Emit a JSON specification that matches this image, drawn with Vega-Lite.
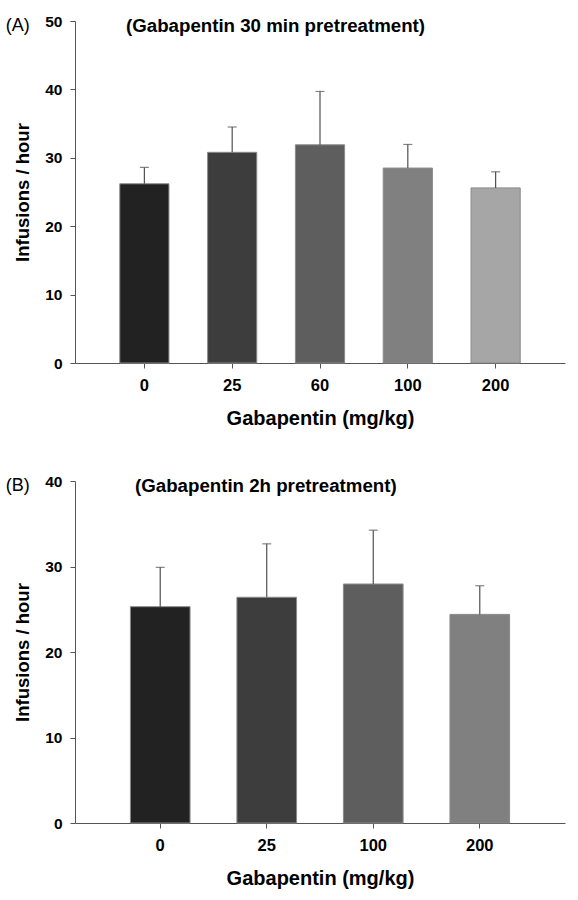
{
  "$schema": "https://vega.github.io/schema/vega-lite/v6.json",
  "background": "white",
  "padding": {"left": 5, "top": 14, "right": 5, "bottom": 5},
  "spacing": 45,
  "config": {
    "view": {"stroke": null},
    "font": "Liberation Sans",
    "axis": {
      "grid": false,
      "domainColor": "#555",
      "tickColor": "#555",
      "labelColor": "#000",
      "titleColor": "#000",
      "labelFont": "Liberation Sans",
      "titleFont": "Liberation Sans",
      "labelFontWeight": "bold",
      "titleFontWeight": "bold"
    },
    "title": {"font": "Liberation Sans", "color": "#000"}
  },
  "resolve": {"scale": {"color": "independent"}},
  "vconcat": [
    {
      "title": {"text": "(A)", "anchor": "start", "frame": "bounds", "fontWeight": "normal", "fontSize": 18, "dx": -8, "offset": -21},
      "vconcat": [
        {
          "width": 490,
          "height": 342,
          "title": {"text": "(Gabapentin 30 min pretreatment)", "anchor": "start", "frame": "group", "dx": 51, "offset": -22, "fontSize": 18.7, "fontWeight": "bold"},
          "data": {"values": [
            {"dose": "0", "mean": 26.2, "upper": 28.6},
            {"dose": "25", "mean": 30.8, "upper": 34.5},
            {"dose": "60", "mean": 31.9, "upper": 39.7},
            {"dose": "100", "mean": 28.5, "upper": 31.95},
            {"dose": "200", "mean": 25.6, "upper": 27.95}
          ]},
          "encoding": {
            "x": {"field": "dose", "type": "ordinal", "sort": null,
              "scale": {"paddingInner": 0.44, "paddingOuter": 0.51},
              "axis": {"title": "Gabapentin (mg/kg)", "labelAngle": 0, "labelFontSize": 16.5, "titleFontSize": 20, "tickSize": 5, "labelPadding": 9, "titlePadding": 15}}
          },
          "layer": [
            {
              "mark": {"type": "bar", "stroke": "#8a8a8a", "strokeWidth": 1},
              "encoding": {
                "y": {"field": "mean", "type": "quantitative", "scale": {"domain": [0, 50]},
                  "axis": {"title": "Infusions / hour", "values": [0, 10, 20, 30, 40, 50], "labelFontSize": 15.5, "titleFontSize": 18.5, "tickSize": 5, "labelPadding": 8, "titlePadding": 12}},
                "color": {"field": "dose", "type": "nominal", "sort": null, "legend": null,
                  "scale": {"domain": ["0", "25", "60", "100", "200"], "range": ["#222222", "#3d3d3d", "#5e5e5e", "#808080", "#a6a6a6"]}}
              }
            },
            {
              "mark": {"type": "rule", "color": "#505050", "strokeWidth": 1.2},
              "encoding": {"y": {"field": "mean", "type": "quantitative"}, "y2": {"field": "upper"}}
            },
            {
              "mark": {"type": "tick", "color": "#505050", "size": 9, "thickness": 1.2},
              "encoding": {"y": {"field": "upper", "type": "quantitative"}}
            }
          ]
        }
      ]
    },
    {
      "title": {"text": "(B)", "anchor": "start", "frame": "bounds", "fontWeight": "normal", "fontSize": 18, "dx": -8, "offset": -21},
      "vconcat": [
        {
          "width": 490,
          "height": 342,
          "title": {"text": "(Gabapentin 2h pretreatment)", "anchor": "start", "frame": "group", "dx": 60, "offset": -22, "fontSize": 18.7, "fontWeight": "bold"},
          "data": {"values": [
            {"dose": "0", "mean": 25.3, "upper": 29.9},
            {"dose": "25", "mean": 26.4, "upper": 32.65},
            {"dose": "100", "mean": 27.95, "upper": 34.25},
            {"dose": "200", "mean": 24.4, "upper": 27.75}
          ]},
          "encoding": {
            "x": {"field": "dose", "type": "ordinal", "sort": null,
              "scale": {"paddingInner": 0.44, "paddingOuter": 0.52},
              "axis": {"title": "Gabapentin (mg/kg)", "labelAngle": 0, "labelFontSize": 16.5, "titleFontSize": 20, "tickSize": 5, "labelPadding": 9, "titlePadding": 15}}
          },
          "layer": [
            {
              "mark": {"type": "bar", "stroke": "#8a8a8a", "strokeWidth": 1},
              "encoding": {
                "y": {"field": "mean", "type": "quantitative", "scale": {"domain": [0, 40]},
                  "axis": {"title": "Infusions / hour", "values": [0, 10, 20, 30, 40], "labelFontSize": 15.5, "titleFontSize": 18.5, "tickSize": 5, "labelPadding": 8, "titlePadding": 12}},
                "color": {"field": "dose", "type": "nominal", "sort": null, "legend": null,
                  "scale": {"domain": ["0", "25", "100", "200"], "range": ["#222222", "#3d3d3d", "#5e5e5e", "#808080"]}}
              }
            },
            {
              "mark": {"type": "rule", "color": "#505050", "strokeWidth": 1.2},
              "encoding": {"y": {"field": "mean", "type": "quantitative"}, "y2": {"field": "upper"}}
            },
            {
              "mark": {"type": "tick", "color": "#505050", "size": 9, "thickness": 1.2},
              "encoding": {"y": {"field": "upper", "type": "quantitative"}}
            }
          ]
        }
      ]
    }
  ]
}
